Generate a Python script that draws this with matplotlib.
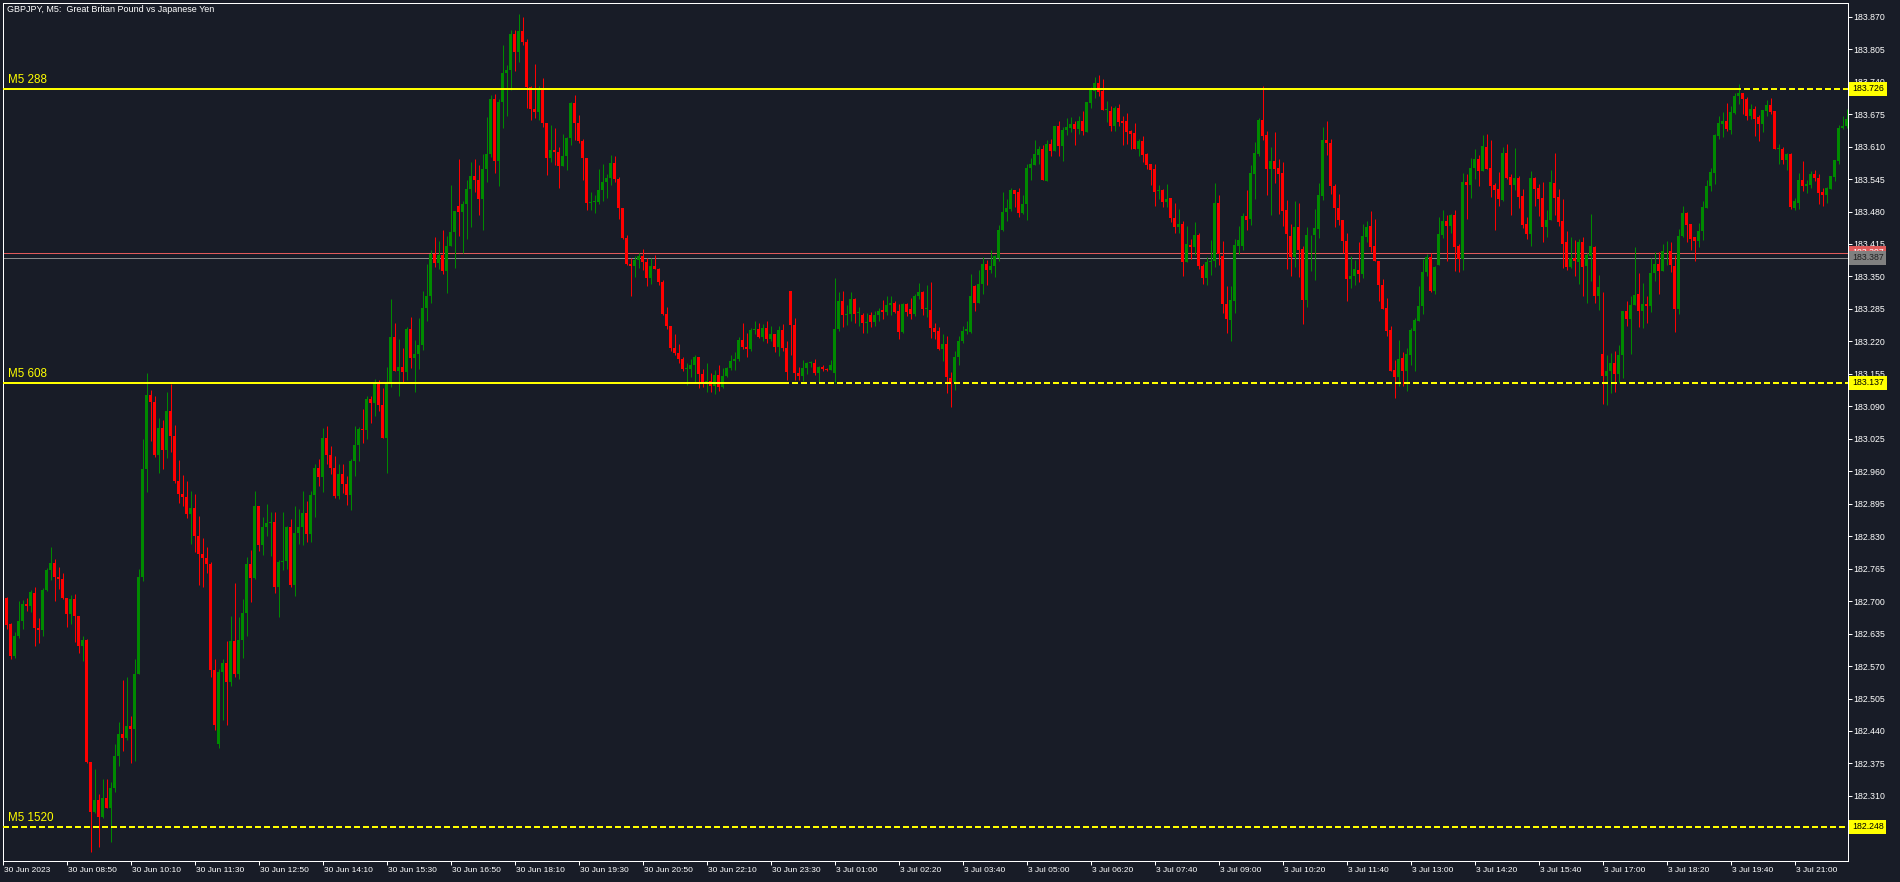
import numpy as np
import matplotlib
matplotlib.use("Agg")
import matplotlib.pyplot as plt
import matplotlib.transforms as mtransforms

# GBPJPY M5 candles, prices stored in points (0.001) above BASE
BASE = 182.0

open_pts = [
    722, 706, 654, 591, 630, 660, 694, 690, 717, 647, 643, 722,
    762, 776, 749, 744, 707, 674, 705, 670, 611, 623, 377, 278,
    302, 268, 306, 286, 325, 390, 434, 426, 450, 443, 555, 748,
    965, 1113, 1099, 992, 1046, 1003, 1081, 1031, 940, 914, 908, 874,
    887, 831, 795, 787, 774, 562, 414, 559, 577, 539, 621, 555,
    623, 677, 774, 746, 890, 813, 849, 857, 858, 729, 778, 781,
    848, 732, 836, 848, 876, 834, 912, 966, 949, 1026, 993, 966,
    910, 955, 934, 912, 980, 1013, 1045, 1043, 1104, 1096, 1137, 1093,
    1026, 1136, 1229, 1161, 1168, 1159, 1244, 1186, 1194, 1213, 1287, 1311,
    1394, 1377, 1392, 1361, 1411, 1439, 1492, 1479, 1495, 1526, 1551, 1543,
    1505, 1565, 1595, 1705, 1582, 1699, 1757, 1763, 1835, 1800, 1841, 1820,
    1729, 1685, 1680, 1723, 1658, 1588, 1603, 1600, 1572, 1591, 1628, 1698,
    1658, 1622, 1588, 1498, 1500, 1500, 1524, 1540, 1548, 1578, 1545, 1488,
    1426, 1375, 1370, 1382, 1391, 1378, 1347, 1371, 1365, 1339, 1275, 1251,
    1207, 1197, 1185, 1164, 1165, 1173, 1188, 1155, 1137, 1140, 1131, 1153,
    1129, 1151, 1167, 1181, 1184, 1223, 1208, 1205, 1243, 1245, 1229, 1247,
    1224, 1235, 1209, 1243, 1206, 1321, 1253, 1157, 1151, 1166, 1176, 1177,
    1157, 1168, 1164, 1162, 1157, 1244, 1300, 1272, 1274, 1304, 1276, 1273,
    1256, 1273, 1259, 1273, 1283, 1279, 1293, 1297, 1281, 1238, 1294, 1285,
    1275, 1311, 1319, 1285, 1283, 1246, 1240, 1205, 1215, 1147, 1139, 1189,
    1221, 1241, 1239, 1330, 1297, 1335, 1375, 1362, 1371, 1386, 1443, 1479,
    1486, 1523, 1519, 1478, 1496, 1567, 1573, 1593, 1606, 1542, 1615, 1602,
    1651, 1611, 1643, 1648, 1655, 1645, 1661, 1640, 1697, 1721, 1737, 1722,
    1683, 1681, 1652, 1687, 1661, 1661, 1641, 1637, 1606, 1621, 1595, 1575,
    1565, 1521, 1523, 1500, 1508, 1466, 1448, 1455, 1378, 1413, 1408, 1433,
    1371, 1346, 1378, 1380, 1498, 1391, 1294, 1263, 1301, 1411, 1411, 1471,
    1465, 1555, 1595, 1663, 1633, 1565, 1581, 1568, 1558, 1483, 1430, 1388,
    1448, 1405, 1303, 1432, 1432, 1445, 1512, 1623, 1618, 1532, 1488, 1463,
    1420, 1344, 1350, 1363, 1355, 1428, 1450, 1410, 1381, 1333, 1287, 1243,
    1163, 1149, 1186, 1161, 1193, 1241, 1261, 1290, 1358, 1388, 1321, 1373,
    1433, 1461, 1450, 1473, 1410, 1384, 1540, 1533, 1568, 1585, 1562, 1610,
    1568, 1534, 1525, 1503, 1598, 1550, 1533, 1548, 1511, 1455, 1435, 1548,
    1528, 1508, 1448, 1462, 1538, 1509, 1460, 1418, 1368, 1386, 1378, 1418,
    1370, 1390, 1408, 1310, 1195, 1151, 1161, 1176, 1154, 1193, 1280, 1265,
    1293, 1314, 1280, 1295, 1290, 1356, 1375, 1361, 1400, 1401, 1371, 1285,
    1431, 1478, 1454, 1428, 1421, 1440, 1488, 1532, 1558, 1631, 1655, 1661,
    1643, 1677, 1711, 1718, 1705, 1671, 1685, 1670, 1655, 1681, 1693, 1682,
    1606, 1606, 1583, 1596, 1488, 1498, 1544, 1532, 1533, 1555, 1548, 1520,
    1513, 1526, 1550, 1581, 1647, 1651,
]

high_pts = [
    725, 708, 657, 639, 700, 702, 706, 722, 728, 666, 726, 766,
    808, 784, 768, 756, 707, 712, 714, 670, 630, 625, 377, 364,
    314, 343, 343, 337, 414, 457, 542, 549, 469, 585, 764, 1024,
    1156, 1123, 1110, 1066, 1063, 1118, 1135, 1052, 983, 952, 940, 920,
    914, 871, 827, 809, 779, 584, 565, 585, 621, 670, 736, 668,
    705, 789, 802, 920, 890, 868, 894, 878, 879, 783, 879, 851,
    864, 891, 885, 921, 900, 921, 974, 985, 1047, 1051, 1011, 990,
    974, 974, 951, 985, 1051, 1049, 1084, 1111, 1111, 1145, 1143, 1126,
    1168, 1304, 1256, 1225, 1206, 1249, 1268, 1222, 1266, 1320, 1375, 1403,
    1428, 1420, 1443, 1430, 1533, 1481, 1585, 1501, 1543, 1580, 1585, 1573,
    1595, 1670, 1713, 1715, 1705, 1813, 1773, 1843, 1843, 1875, 1869, 1825,
    1731, 1775, 1731, 1747, 1658, 1653, 1648, 1610, 1636, 1630, 1700, 1713,
    1673, 1626, 1588, 1520, 1513, 1566, 1575, 1555, 1593, 1591, 1550, 1488,
    1433, 1387, 1391, 1396, 1405, 1386, 1386, 1393, 1366, 1343, 1288, 1251,
    1235, 1215, 1189, 1176, 1184, 1193, 1188, 1165, 1176, 1156, 1163, 1173,
    1166, 1169, 1193, 1199, 1229, 1256, 1236, 1246, 1261, 1256, 1255, 1261,
    1251, 1235, 1251, 1255, 1220, 1321, 1266, 1168, 1183, 1178, 1181, 1185,
    1170, 1173, 1166, 1183, 1346, 1318, 1320, 1293, 1318, 1306, 1288, 1276,
    1276, 1279, 1280, 1286, 1303, 1311, 1311, 1301, 1295, 1296, 1296, 1306,
    1315, 1336, 1321, 1333, 1338, 1257, 1249, 1234, 1230, 1158, 1201, 1231,
    1251, 1261, 1355, 1333, 1363, 1388, 1383, 1403, 1393, 1453, 1520, 1506,
    1528, 1523, 1528, 1513, 1576, 1588, 1623, 1611, 1613, 1623, 1625, 1651,
    1661, 1650, 1668, 1670, 1661, 1671, 1681, 1699, 1730, 1749, 1753, 1745,
    1701, 1691, 1691, 1695, 1671, 1678, 1644, 1657, 1626, 1631, 1598, 1575,
    1576, 1533, 1526, 1535, 1508, 1498, 1485, 1461, 1451, 1425, 1458, 1436,
    1374, 1388, 1423, 1538, 1513, 1421, 1330, 1330, 1425, 1451, 1478, 1523,
    1573, 1620, 1668, 1732, 1642, 1610, 1640, 1586, 1580, 1503, 1455, 1502,
    1498, 1410, 1448, 1433, 1485, 1538, 1650, 1661, 1625, 1535, 1515, 1463,
    1436, 1390, 1383, 1418, 1455, 1460, 1482, 1465, 1381, 1345, 1307, 1251,
    1183, 1223, 1198, 1207, 1246, 1266, 1330, 1384, 1394, 1396, 1371, 1468,
    1483, 1473, 1475, 1483, 1414, 1558, 1555, 1588, 1606, 1593, 1633, 1635,
    1623, 1538, 1560, 1610, 1615, 1556, 1607, 1551, 1525, 1468, 1561, 1550,
    1535, 1540, 1483, 1563, 1598, 1525, 1505, 1441, 1428, 1423, 1425, 1428,
    1396, 1475, 1410, 1352, 1318, 1193, 1197, 1201, 1213, 1280, 1300, 1311,
    1408, 1356, 1336, 1311, 1387, 1398, 1398, 1415, 1421, 1418, 1393, 1445,
    1491, 1480, 1454, 1428, 1456, 1501, 1543, 1568, 1635, 1671, 1680, 1698,
    1691, 1718, 1735, 1718, 1710, 1695, 1691, 1673, 1683, 1703, 1708, 1682,
    1615, 1610, 1598, 1597, 1508, 1558, 1581, 1544, 1561, 1563, 1555, 1528,
    1530, 1551, 1583, 1653, 1671, 1685,
]

low_pts = [
    700, 645, 585, 587, 626, 645, 681, 679, 611, 617, 631, 720,
    742, 701, 724, 704, 649, 654, 619, 597, 581, 375, 198, 275,
    208, 265, 286, 218, 317, 370, 399, 422, 375, 379, 555, 740,
    919, 1021, 988, 956, 964, 986, 999, 936, 896, 890, 867, 814,
    799, 732, 728, 756, 549, 441, 405, 461, 452, 530, 548, 544,
    587, 631, 698, 744, 800, 793, 830, 790, 716, 668, 763, 765,
    728, 710, 815, 813, 819, 819, 868, 931, 919, 974, 955, 906,
    904, 917, 892, 883, 950, 980, 1017, 1025, 1057, 1070, 1081, 1026,
    956, 1128, 1161, 1111, 1137, 1142, 1166, 1118, 1165, 1202, 1260, 1296,
    1368, 1364, 1355, 1317, 1411, 1367, 1430, 1396, 1425, 1448, 1520, 1473,
    1443, 1540, 1590, 1558, 1532, 1647, 1672, 1723, 1761, 1780, 1813, 1688,
    1663, 1668, 1663, 1650, 1553, 1580, 1573, 1528, 1572, 1563, 1613, 1623,
    1618, 1544, 1483, 1483, 1478, 1495, 1502, 1508, 1534, 1540, 1465, 1424,
    1372, 1310, 1348, 1366, 1363, 1331, 1335, 1365, 1332, 1273, 1245, 1201,
    1193, 1176, 1160, 1133, 1149, 1136, 1126, 1128, 1119, 1119, 1115, 1120,
    1126, 1148, 1163, 1163, 1180, 1205, 1188, 1201, 1234, 1226, 1220, 1217,
    1221, 1199, 1191, 1201, 1143, 1193, 1143, 1143, 1140, 1155, 1168, 1153,
    1137, 1160, 1161, 1162, 1136, 1241, 1249, 1253, 1260, 1256, 1251, 1237,
    1237, 1249, 1250, 1260, 1265, 1273, 1273, 1276, 1224, 1236, 1271, 1265,
    1270, 1304, 1273, 1268, 1226, 1224, 1203, 1181, 1116, 1089, 1123, 1173,
    1217, 1234, 1237, 1280, 1297, 1315, 1333, 1356, 1348, 1380, 1441, 1460,
    1482, 1490, 1468, 1475, 1463, 1543, 1573, 1576, 1543, 1542, 1591, 1601,
    1591, 1581, 1633, 1640, 1613, 1636, 1633, 1640, 1688, 1707, 1711, 1683,
    1659, 1642, 1642, 1651, 1613, 1615, 1606, 1605, 1592, 1580, 1565, 1533,
    1491, 1505, 1490, 1490, 1458, 1437, 1436, 1350, 1378, 1384, 1393, 1364,
    1335, 1332, 1353, 1368, 1373, 1276, 1237, 1221, 1277, 1394, 1402, 1442,
    1453, 1505, 1591, 1623, 1513, 1473, 1538, 1476, 1451, 1365, 1350, 1368,
    1348, 1255, 1288, 1361, 1343, 1426, 1503, 1594, 1515, 1448, 1453, 1396,
    1300, 1326, 1332, 1338, 1346, 1418, 1398, 1380, 1300, 1284, 1231, 1161,
    1106, 1131, 1131, 1121, 1173, 1161, 1260, 1275, 1350, 1318, 1315, 1373,
    1426, 1380, 1436, 1360, 1358, 1362, 1465, 1508, 1545, 1532, 1562, 1565,
    1510, 1442, 1492, 1501, 1546, 1473, 1523, 1488, 1446, 1425, 1410, 1492,
    1472, 1418, 1428, 1462, 1473, 1450, 1366, 1362, 1366, 1350, 1335, 1311,
    1297, 1340, 1297, 1283, 1095, 1093, 1116, 1119, 1137, 1146, 1250, 1194,
    1293, 1248, 1246, 1256, 1279, 1340, 1315, 1360, 1373, 1358, 1239, 1275,
    1429, 1418, 1402, 1380, 1408, 1423, 1488, 1522, 1536, 1625, 1630, 1642,
    1635, 1675, 1695, 1675, 1663, 1665, 1631, 1621, 1640, 1671, 1676, 1605,
    1575, 1575, 1563, 1486, 1484, 1485, 1522, 1518, 1528, 1541, 1495, 1492,
    1498, 1526, 1542, 1575, 1645, 1647,
]

close_pts = [
    705, 652, 591, 630, 660, 694, 690, 718, 647, 643, 722, 762,
    776, 749, 744, 707, 674, 705, 670, 611, 623, 377, 278, 302,
    268, 306, 286, 325, 390, 434, 426, 450, 443, 555, 748, 965,
    1113, 1099, 992, 1046, 1003, 1081, 1031, 940, 914, 908, 874, 887,
    831, 795, 787, 774, 562, 452, 559, 577, 539, 621, 555, 623,
    677, 774, 746, 890, 813, 849, 857, 858, 729, 778, 781, 848,
    732, 836, 848, 876, 834, 912, 966, 949, 1026, 993, 966, 910,
    955, 934, 912, 980, 1013, 1045, 1043, 1104, 1096, 1137, 1093, 1026,
    1136, 1229, 1161, 1168, 1159, 1244, 1186, 1194, 1213, 1287, 1311, 1394,
    1377, 1392, 1361, 1411, 1439, 1481, 1479, 1495, 1526, 1551, 1543, 1505,
    1565, 1595, 1705, 1582, 1699, 1757, 1763, 1835, 1800, 1841, 1820, 1729,
    1685, 1680, 1723, 1658, 1588, 1603, 1600, 1572, 1591, 1628, 1698, 1658,
    1622, 1588, 1498, 1500, 1500, 1524, 1540, 1548, 1578, 1545, 1488, 1426,
    1375, 1370, 1382, 1391, 1378, 1347, 1371, 1365, 1339, 1275, 1251, 1207,
    1197, 1185, 1164, 1165, 1173, 1188, 1155, 1137, 1140, 1131, 1153, 1129,
    1151, 1167, 1181, 1184, 1223, 1208, 1205, 1243, 1245, 1229, 1247, 1224,
    1235, 1209, 1243, 1206, 1159, 1253, 1157, 1151, 1166, 1176, 1177, 1157,
    1168, 1164, 1162, 1173, 1244, 1300, 1272, 1274, 1304, 1275, 1278, 1256,
    1259, 1259, 1273, 1281, 1279, 1293, 1297, 1279, 1239, 1295, 1279, 1275,
    1311, 1319, 1285, 1286, 1246, 1239, 1205, 1215, 1149, 1139, 1189, 1221,
    1241, 1245, 1310, 1297, 1335, 1375, 1362, 1371, 1390, 1443, 1479, 1488,
    1523, 1516, 1478, 1496, 1568, 1575, 1595, 1606, 1543, 1615, 1602, 1651,
    1611, 1643, 1650, 1655, 1645, 1661, 1641, 1699, 1723, 1737, 1720, 1683,
    1683, 1652, 1687, 1660, 1657, 1640, 1635, 1606, 1621, 1593, 1573, 1563,
    1520, 1522, 1500, 1506, 1466, 1448, 1455, 1378, 1415, 1408, 1433, 1370,
    1346, 1378, 1381, 1498, 1394, 1294, 1265, 1303, 1413, 1423, 1471, 1463,
    1558, 1598, 1663, 1632, 1565, 1581, 1566, 1555, 1482, 1435, 1388, 1448,
    1403, 1302, 1433, 1433, 1446, 1513, 1623, 1618, 1532, 1488, 1462, 1420,
    1344, 1351, 1365, 1355, 1430, 1448, 1408, 1380, 1332, 1284, 1241, 1161,
    1149, 1185, 1161, 1194, 1243, 1263, 1291, 1358, 1388, 1321, 1368, 1435,
    1461, 1450, 1473, 1408, 1384, 1540, 1533, 1568, 1585, 1562, 1611, 1565,
    1532, 1523, 1506, 1598, 1548, 1533, 1548, 1510, 1453, 1435, 1548, 1525,
    1505, 1448, 1463, 1540, 1508, 1458, 1415, 1368, 1386, 1380, 1418, 1368,
    1393, 1410, 1310, 1328, 1151, 1161, 1176, 1154, 1193, 1280, 1265, 1293,
    1313, 1280, 1295, 1290, 1356, 1375, 1361, 1400, 1401, 1372, 1285, 1431,
    1478, 1453, 1425, 1421, 1441, 1490, 1532, 1560, 1633, 1658, 1661, 1645,
    1680, 1711, 1718, 1705, 1671, 1685, 1665, 1655, 1683, 1693, 1679, 1605,
    1606, 1583, 1595, 1490, 1501, 1544, 1532, 1535, 1555, 1548, 1518, 1513,
    1528, 1551, 1583, 1648, 1651, 1665,
]

time_labels = [
    "30 Jun 2023", "30 Jun 08:50", "30 Jun 10:10", "30 Jun 11:30", "30 Jun 12:50",
    "30 Jun 14:10", "30 Jun 15:30", "30 Jun 16:50", "30 Jun 18:10", "30 Jun 19:30",
    "30 Jun 20:50", "30 Jun 22:10", "30 Jun 23:30", "3 Jul 01:00", "3 Jul 02:20",
    "3 Jul 03:40", "3 Jul 05:00", "3 Jul 06:20", "3 Jul 07:40", "3 Jul 09:00",
    "3 Jul 10:20", "3 Jul 11:40", "3 Jul 13:00", "3 Jul 14:20", "3 Jul 15:40",
    "3 Jul 17:00", "3 Jul 18:20", "3 Jul 19:40", "3 Jul 21:00",
]
label_every = 16  # one time label every 16 bars

price_ticks = [
    182.310, 182.375, 182.440, 182.505, 182.570, 182.635, 182.700, 182.765,
    182.830, 182.895, 182.960, 183.025, 183.090, 183.155, 183.220, 183.285,
    183.350, 183.415, 183.480, 183.545, 183.610, 183.675, 183.740, 183.805,
    183.870,
]

level_names = ["M5 288", "M5 608", "M5 1520"]
level_prices = [183.726, 183.137, 182.248]
level_solid_to = [433, 195, None]  # bar where the level line turns dashed

ask_price = 183.397
bid_price = 183.387
title = "GBPJPY, M5:  Great Britan Pound vs Japanese Yen"

BG = "#181c27"
UP = "#008a00"
DOWN = "#ff0000"
YELLOW = "#ffff00"
FONT = ["Liberation Sans", "DejaVu Sans"]
PX = 0.72  # one pixel in points at dpi 100

o = BASE + np.array(open_pts) / 1000
h = BASE + np.array(high_pts) / 1000
l = BASE + np.array(low_pts) / 1000
c = BASE + np.array(close_pts) / 1000
h = np.maximum(h, np.maximum(o, c))
l = np.minimum(l, np.minimum(o, c))
x = np.arange(len(c))

W, H = 1900, 882
fig = plt.figure(figsize=(W / 100, H / 100), dpi=100, facecolor=BG)
left_px, right_px, top_px, bot_px = 2.5, 1847.5, 2.5, 861
ax = fig.add_axes([left_px / W, (H - bot_px) / H,
                   (right_px - left_px) / W, (bot_px - top_px) / H])
ax.set_facecolor(BG)

ppu = 499.5  # pixels per price unit
ax.set_ylim(183.870 - (bot_px - 16.7) / ppu, 183.870 + (16.7 - top_px) / ppu)
ax.set_xlim(-0.05, -0.05 + (right_px - left_px) / 4)

cols = np.where(c >= o, UP, DOWN)
ax.vlines(x, l, h, colors=cols, linewidth=PX, zorder=2)
body_bot = np.minimum(o, c)
body_h = np.maximum(np.abs(c - o), 0.0018)
ax.bar(x, body_h, bottom=body_bot, width=0.75, color=cols, linewidth=0, zorder=2)

# bid / ask lines
ax.axhline(ask_price, color="#e05a5a", linewidth=PX, zorder=1)
ax.axhline(bid_price, color="#8c8c8c", linewidth=PX, zorder=1)

# level lines
xmax = ax.get_xlim()[1]
for name, p, solid_to in zip(level_names, level_prices, level_solid_to):
    start = ax.get_xlim()[0]
    if solid_to is not None:
        ax.plot([start, solid_to], [p, p], color=YELLOW, linewidth=2 * PX,
                solid_capstyle="butt", zorder=3)
        start = solid_to
    ax.plot([start, xmax], [p, p], color=YELLOW, linewidth=2 * PX,
            linestyle=(0, (3, 1.5)), dash_capstyle="butt", zorder=3)
    ax.annotate(name, xy=(0, p), xycoords=("axes fraction", "data"),
                xytext=(5, 2.5), textcoords="offset pixels",
                color=YELLOW, fontsize=8.4, family=FONT,
                va="bottom", ha="left", zorder=4)

# axes styling
for s in ax.spines.values():
    s.set_color("white")
    s.set_linewidth(PX)
ax.yaxis.tick_right()
ax.set_yticks(price_ticks)
ax.set_yticklabels([f"{p:.3f}" for p in price_ticks], family=FONT, fontsize=6.3)
ax.set_xticks([i * label_every for i in range(len(time_labels))])
ax.set_xticklabels(time_labels, family=FONT, fontsize=6.0, ha="left")
ax.tick_params(axis="both", colors="white", length=4 * PX, width=PX)
ax.tick_params(axis="y", pad=1.5)
ax.tick_params(axis="x", pad=1.8)
for lab in ax.get_xticklabels():
    lab.set_transform(lab.get_transform() + mtransforms.Affine2D().translate(1, 0))

# price tags on the right scale
tag_tf = mtransforms.blended_transform_factory(ax.transAxes, ax.transData)
tags = [(ask_price, "#e05a5a", "white"), (bid_price, "#808080", "#202020")]
tags += [(p, YELLOW, "black") for p in level_prices]
for p, fc, tc in tags:
    ax.text(1.0 + 4.5 / (right_px - left_px), p, f"{p:.3f}", transform=tag_tf,
            family=FONT, fontsize=6.3, color=tc, va="center", ha="left",
            bbox=dict(boxstyle="square,pad=0.3", fc=fc, ec="none"),
            clip_on=False, zorder=5)

fig.text(7 / W, 1 - 10 / H, title, color="white", fontsize=6.5,
         family=FONT, va="center", ha="left")

fig.savefig("out.png", dpi=100, facecolor=BG)
